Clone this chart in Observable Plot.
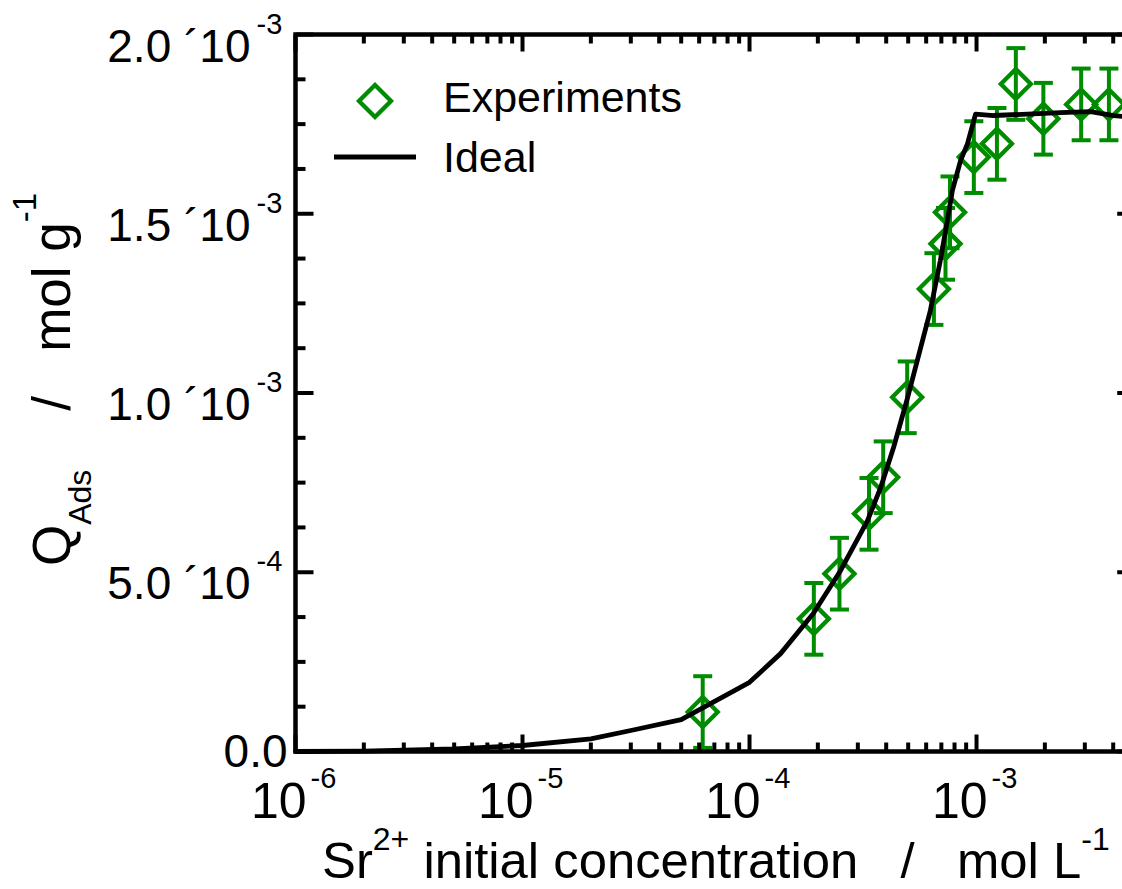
<!DOCTYPE html>
<html><head><meta charset="utf-8">
<script src="https://cdn.jsdelivr.net/npm/d3@7"></script>
<script src="https://cdn.jsdelivr.net/npm/@observablehq/plot@0.6"></script>
<style>
html,body{margin:0;padding:0;background:#fff;overflow:hidden;}
#chart{width:1122px;height:889px;overflow:hidden;position:relative;}
#chart svg{max-width:none !important;}
#chart svg text{font-family:"Liberation Sans",Arial,sans-serif;}
</style></head><body><div id="chart"></div>
<script>
const GREEN = "#008c00";

// Experimental points (Sr2+ initial concentration, mol/L ; Q_Ads, mol/g ; error)
const expX = [6.22e-5, 1.92e-4, 2.49e-4, 3.36e-4, 3.88e-4, 4.95e-4, 6.49e-4, 7.30e-4, 7.64e-4, 9.73e-4, 1.23e-3, 1.49e-3, 1.97e-3, 2.89e-3, 3.83e-3];
const expY = [1.10e-4, 3.70e-4, 4.96e-4, 6.63e-4, 7.65e-4, 9.88e-4, 1.29e-3, 1.416e-3, 1.504e-3, 1.658e-3, 1.695e-3, 1.862e-3, 1.765e-3, 1.805e-3, 1.805e-3];
const expErr = [1.0e-4, 1.0e-4, 1.0e-4, 1.0e-4, 1.0e-4, 1.0e-4, 1.0e-4, 1.0e-4, 1.0e-4, 1.0e-4, 1.0e-4, 1.0e-4, 1.0e-4, 1.0e-4, 1.0e-4];

// Ideal model curve
const idealX = [1e-6, 2e-6, 5e-6, 1e-5, 2e-5, 3e-5, 5e-5, 1e-4, 1.37e-4, 1.91e-4, 2.52e-4, 3.31e-4, 3.78e-4, 4.31e-4, 4.97e-4, 6.26e-4, 6.93e-4, 7.44e-4, 7.83e-4, 8.51e-4, 9.12e-4, 9.90e-4, 1.19e-3, 1.68e-3, 2.34e-3, 3.18e-3, 4.02e-3, 5e-3];
const idealY = [0, 1e-6, 7.5e-6, 1.67e-5, 3.54e-5, 5.86e-5, 8.9e-5, 1.93e-4, 2.73e-4, 3.85e-4, 5.05e-4, 6.44e-4, 7.36e-4, 8.48e-4, 9.87e-4, 1.23e-3, 1.37e-3, 1.481e-3, 1.565e-3, 1.649e-3, 1.695e-3, 1.778e-3, 1.774e-3, 1.778e-3, 1.782e-3, 1.785e-3, 1.774e-3, 1.768e-3];

// Axis ticks and labels
const xDomain = [1e-6, 5e-3];
const yDomain = [0, 2e-3];
const xTickVals = [1e-6, 1e-5, 1e-4, 1e-3];
const xTickMain = ["10", "10", "10", "10"];
const xTickSup = ["-6", "-5", "-4", "-3"];
const yTickVals = [0, 5e-4, 1e-3, 1.5e-3, 2e-3];
const yTickMain = ["0.0", "5.0 \u00b410", "1.0 \u00b410", "1.5 \u00b410", "2.0 \u00b410"];
const yTickSup = ["", "-4", "-3", "-3", "-3"];
const yMinorStep = 1.25e-4;

const xMinor = [];
for (let d = -6; d <= -3; d++) for (let k = 2; k <= 9; k++) { const v = k * Math.pow(10, d); if (v <= xDomain[1] * 1.0001) xMinor.push(v); }
const yMinor = [];
for (let i = 1; i < 16; i++) if (i % 4 !== 0) yMinor.push(i * yMinorStep);

const expData = expX.map((x, i) => ({x, y: expY[i], lo: expY[i] - expErr[i], hi: expY[i] + expErr[i]}));
const idealData = idealX.map((x, i) => ({x, y: idealY[i]}));
const xLab = xTickVals.map((v, i) => ({v, main: xTickMain[i], sup: xTickSup[i]}));
const yLab = yTickVals.map((v, i) => ({v, main: yTickMain[i], sup: yTickSup[i]}));

const W = 1150, H = 889, mL = 295, mR = 15.3, mT = 34, mB = 138;
const FONT = "Liberation Sans";

// custom symbols: a segment of r pixels in a given direction
const seg = (dx, dy) => ({draw(ctx, size) { const l = Math.sqrt(size / Math.PI); ctx.moveTo(0, 0); ctx.lineTo(dx * l, dy * l); }});
const tickUp = seg(0, -1), tickDown = seg(0, 1), tickRight = seg(1, 0), tickLeft = seg(-1, 0);
const capSymbol = {draw(ctx, size) { const h = Math.sqrt(size / Math.PI); ctx.moveTo(-h, 0); ctx.lineTo(h, 0); }};
const tk = {stroke: "black", strokeWidth: 4, fill: "none"};

const plot = Plot.plot({
  width: W, height: H, marginLeft: mL, marginRight: mR, marginTop: mT, marginBottom: mB,
  x: {type: "log", domain: xDomain, axis: null},
  y: {domain: yDomain, axis: null},
  style: {fontFamily: FONT, background: "white", maxWidth: "none", color: "black"},
  marks: [
    // error bars
    Plot.ruleX(expData, {x: "x", y1: "lo", y2: "hi", stroke: GREEN, strokeWidth: 4}),
    Plot.dot(expData, {x: "x", y: "hi", symbol: capSymbol, r: 9.5, stroke: GREEN, strokeWidth: 4, fill: "none"}),
    Plot.dot(expData, {x: "x", y: "lo", symbol: capSymbol, r: 9.5, stroke: GREEN, strokeWidth: 4, fill: "none"}),
    Plot.dot(expData, {x: "x", y: "y", symbol: "diamond2", r: 13.5, stroke: GREEN, strokeWidth: 4.3, fill: "none"}),
    // ideal curve
    Plot.line(idealData, {x: "x", y: "y", stroke: "black", strokeWidth: 4.8, strokeLinejoin: "round"}),
    // inward ticks
    Plot.dot(xTickVals, {x: d => d, y: () => yDomain[0], symbol: tickUp, r: 17, ...tk}),
    Plot.dot(xMinor, {x: d => d, y: () => yDomain[0], symbol: tickUp, r: 9, ...tk}),
    Plot.dot(xTickVals, {x: d => d, y: () => yDomain[1], symbol: tickDown, r: 17, ...tk}),
    Plot.dot(xMinor, {x: d => d, y: () => yDomain[1], symbol: tickDown, r: 9, ...tk}),
    Plot.dot(yTickVals, {y: d => d, x: () => xDomain[0], symbol: tickRight, r: 18, ...tk}),
    Plot.dot(yMinor, {y: d => d, x: () => xDomain[0], symbol: tickRight, r: 10, ...tk}),
    Plot.dot(yTickVals, {y: d => d, x: () => xDomain[1], symbol: tickLeft, r: 18, ...tk}),
    Plot.dot(yMinor, {y: d => d, x: () => xDomain[1], symbol: tickLeft, r: 10, ...tk}),
    Plot.frame({stroke: "black", strokeWidth: 4.5}),
    // y tick labels
    Plot.text(yLab.filter(d => d.sup), {x: () => xDomain[0], y: "v", text: "main", textAnchor: "end", lineAnchor: "bottom", dx: -45, dy: 27, fontSize: 46, fill: "black"}),
    Plot.text(yLab.filter(d => d.sup), {x: () => xDomain[0], y: "v", text: "sup", textAnchor: "start", lineAnchor: "bottom", dx: -39, dy: -1, fontSize: 29, fill: "black"}),
    Plot.text(yLab.filter(d => !d.sup), {x: () => xDomain[0], y: "v", text: "main", textAnchor: "end", lineAnchor: "bottom", dx: -8, dy: 15, fontSize: 46, fill: "black"}),
    // x tick labels
    Plot.text(xLab, {x: "v", y: () => yDomain[0], text: "main", textAnchor: "end", lineAnchor: "bottom", dx: 11, dy: 66, fontSize: 50, fill: "black"}),
    Plot.text(xLab, {x: "v", y: () => yDomain[0], text: "sup", textAnchor: "start", lineAnchor: "bottom", dx: 15, dy: 36, fontSize: 29, fill: "black"})
  ]
});
plot.style.maxWidth = "none";
document.getElementById("chart").appendChild(plot);

const svg = d3.select(plot);
// x axis title
const xt = svg.append("text").attr("x", 322).attr("y", 878).attr("text-anchor", "start")
  .attr("font-size", 50.8).attr("fill", "black").style("white-space", "pre");
xt.append("tspan").text("Sr");
xt.append("tspan").attr("dy", -28).attr("font-size", 32).text("2+");
xt.append("tspan").attr("dy", 28).text(" initial concentration   /   mol L");
xt.append("tspan").attr("dy", -28).attr("font-size", 32).text("-1");

// y axis title
const yt = svg.append("text").attr("transform", "translate(70,566) rotate(-90)").attr("text-anchor", "start")
  .attr("font-size", 53).attr("fill", "black").style("white-space", "pre");
yt.append("tspan").text("Q");
yt.append("tspan").attr("dy", 21).attr("font-size", 32).text("Ads");
yt.append("tspan").attr("dy", -21).text("    /   mol g");
yt.append("tspan").attr("dy", -34).attr("font-size", 33).text("-1");

// legend
const lg = svg.append("g").attr("text-anchor", "start");
const s = 16;
lg.append("path").attr("d", `M375,${101 - s}L${375 + s},101L375,${101 + s}L${375 - s},101Z`)
  .attr("fill", "none").attr("stroke", GREEN).attr("stroke-width", 4.3);
lg.append("text").attr("x", 443).attr("y", 112).attr("text-anchor", "start").attr("font-size", 43).attr("fill", "black").text("Experiments");
lg.append("line").attr("x1", 334).attr("x2", 416).attr("y1", 157).attr("y2", 157).attr("stroke", "black").attr("stroke-width", 5);
lg.append("text").attr("x", 443).attr("y", 172).attr("text-anchor", "start").attr("font-size", 43).attr("fill", "black").text("Ideal");
</script></body></html>
